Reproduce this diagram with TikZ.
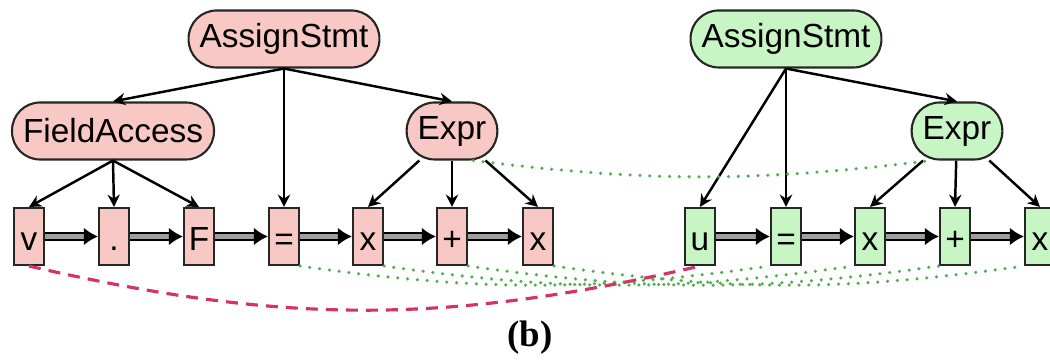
\documentclass[tikz,border=0pt]{standalone}
\usepackage{fontspec}
\setmainfont{Liberation Sans}
\newfontfamily\capfont{Liberation Serif}
\usepackage{xcolor}
\usetikzlibrary{positioning, arrows.meta}

\definecolor{astred}{RGB}{248,200,196}
\definecolor{astgreen}{RGB}{200,245,196}
\definecolor{mapgreen}{RGB}{80,175,80}
\definecolor{mapred}{RGB}{214,50,100}

\begin{document}
\begin{tikzpicture}[
    font=\fontsize{9.5}{11}\selectfont,
    inner/.style={
        rectangle,
        draw=black!85,
        line width=0.6pt,
        rounded corners=2.8mm,
        minimum height=0.57cm,
        inner xsep=1.1mm,
        inner ysep=0pt
    },
    leaf/.style={
        rectangle,
        draw=black!85,
        line width=0.6pt,
        minimum width=0.3cm,
        minimum height=0.57cm,
        text height=1.6ex,
        text depth=0.1ex,
        inner sep=0pt
    },
    src/.style={fill=astred},
    dst/.style={fill=astgreen},
    edge/.style={-{Stealth[length=3.5pt, width=3.5pt]}, line width=0.7pt},
    seq/.style={-{Latex[length=4pt, width=5pt]}, line width=0.55pt, double=gray!75, double distance=1.4pt},
    match/.style={mapgreen, line width=1pt, line cap=round, dash pattern=on 0pt off 2.8pt},
    moved/.style={mapred, line width=0.9pt, dash pattern=on 3.4pt off 2.3pt}
]

\useasboundingbox (0,0) rectangle (10.5,-3.62);

\def\ya{-0.39}
\def\yb{-1.31}
\def\yc{-2.365}

% Source tree
\node[inner, src] (ras) at (2.84, \ya) {AssignStmt};
\node[inner, src] (rfa) at (1.13, \yb) {FieldAccess};
\node[inner, src] (rex) at (4.52, \yb) {Expr};

\node[leaf, src] (rv)   at (0.29, \yc) {v};
\node[leaf, src] (rdot) at (1.14, \yc) {.};
\node[leaf, src] (rf)   at (1.99, \yc) {F};
\node[leaf, src] (req)  at (2.84, \yc) {=};
\node[leaf, src] (rx1)  at (3.68, \yc) {x};
\node[leaf, src] (rpl)  at (4.52, \yc) {+};
\node[leaf, src] (rx2)  at (5.38, \yc) {x};

% Target tree
\node[inner, dst] (gas) at (7.86, \ya) {AssignStmt};
\node[inner, dst] (gex) at (9.57, \yb) {Expr};

\node[leaf, dst] (gu)  at (7.00, \yc) {u};
\node[leaf, dst] (geq) at (7.86, \yc) {=};
\node[leaf, dst] (gx1) at (8.70, \yc) {x};
\node[leaf, dst] (gpl) at (9.55, \yc) {+};
\node[leaf, dst] (gx2) at (10.40, \yc) {x};

% Tree edges
\draw[edge] (ras.south) -- (rfa.north);
\draw[edge] (ras.south) -- (req.north);
\draw[edge] (ras.south) -- (rex.north);
\draw[edge] (rfa.south) -- (rv.north);
\draw[edge] (rfa.south) -- (rdot.north);
\draw[edge] (rfa.south) -- (rf.north);
\draw[edge] (rex) -- (rx1.north);
\draw[edge] (rex) -- (rpl.north);
\draw[edge] (rex) -- (rx2.north);

\draw[edge] (gas.south) -- (gu.north);
\draw[edge] (gas.south) -- (geq.north);
\draw[edge] (gas.south) -- (gex.north);
\draw[edge] (gex) -- (gx1.north);
\draw[edge] (gex) -- (gpl.north);
\draw[edge] (gex) -- (gx2.north);

% Token order
\draw[seq] (rv) -- (rdot);
\draw[seq] (rdot) -- (rf);
\draw[seq] (rf) -- (req);
\draw[seq] (req) -- (rx1);
\draw[seq] (rx1) -- (rpl);
\draw[seq] (rpl) -- (rx2);

\draw[seq] (gu) -- (geq);
\draw[seq] (geq) -- (gx1);
\draw[seq] (gx1) -- (gpl);
\draw[seq] (gpl) -- (gx2);

% Mappings
\draw[match] ([xshift=-2.5mm]rex.south east) to[bend right=7] ([xshift=2mm]gex.south west);
\draw[match] (req.south east) to[bend right=8] (geq.south west);
\draw[match] (rx1.south east) to[bend right=8] (gx1.south west);
\draw[match] (rpl.south east) to[bend right=8] (gpl.south west);
\draw[match] (rx2.south east) to[bend right=8] (gx2.south west);

\draw[moved] (rv.south) to[bend right=13] (gu.south);

\node[font=\capfont\bfseries\fontsize{10.5}{12}\selectfont] (cap) at (5.3, -3.38) {(b)};

\end{tikzpicture}
\end{document}
